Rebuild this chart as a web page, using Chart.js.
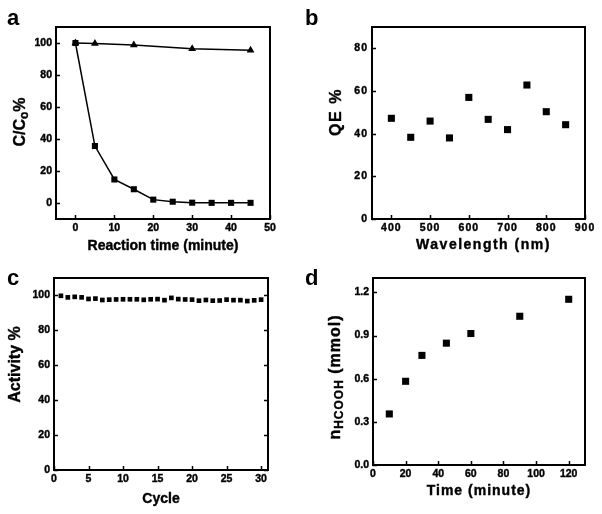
<!DOCTYPE html>
<html>
<head>
<meta charset="utf-8">
<script src="https://cdn.jsdelivr.net/npm/chart.js@4"></script>
<style>
  html, body { margin: 0; padding: 0; background: #fff; }
  .panel { position: absolute; }
</style>
</head>
<body>
<div class="panel" style="left:0;top:0"><canvas id="chartA" width="301" height="257"></canvas></div>
<div class="panel" style="left:301px;top:0"><canvas id="chartB" width="301" height="257"></canvas></div>
<div class="panel" style="left:0;top:257px"><canvas id="chartC" width="301" height="257"></canvas></div>
<div class="panel" style="left:301px;top:257px"><canvas id="chartD" width="301" height="257"></canvas></div>
<script>
// ---- Data ----
// a: photodegradation, C/Co %
const reactionTime = [0, 5, 10, 15, 20, 25, 30, 35, 40, 45];
const ratioWithCatalyst = [100, 35.6, 14.7, 8.6, 2.1, 0.8, 0.2, 0.1, 0.1, 0.1];
const blankTime = [0, 5, 15, 30, 45];
const ratioBlank = [100, 99.7, 98.8, 96.4, 95.4];
const ticksAX = [0, 10, 20, 30, 40, 50];
const ticksAY = [0, 20, 40, 60, 80, 100];

// b: quantum efficiency vs wavelength
const wavelength = [400, 450, 500, 550, 600, 650, 700, 750, 800, 850];
const quantumEff = [47.2, 38.3, 45.9, 38.0, 57.0, 46.7, 41.9, 62.8, 50.3, 44.2];
const ticksBX = [400, 500, 600, 700, 800, 900];
const ticksBY = [0, 20, 40, 60, 80];

// c: recycling activity
const cycles = [1, 2, 3, 4, 5, 6, 7, 8, 9, 10, 11, 12, 13, 14, 15, 16, 17, 18, 19, 20, 21, 22, 23, 24, 25, 26, 27, 28, 29, 30];
const activity = [99.8, 98.9, 99.2, 98.9, 98.0, 98.2, 97.4, 97.6, 97.7, 97.8, 97.8, 97.8, 97.5, 97.8, 97.9, 97.3, 98.6, 97.9, 97.7, 97.6, 97.0, 97.4, 97.0, 97.1, 97.6, 97.3, 97.3, 96.8, 97.2, 97.6];
const ticksCX = [0, 5, 10, 15, 20, 25, 30];
const ticksCY = [0, 20, 40, 60, 80, 100];

// d: formic acid produced vs time
const formicTime = [10, 20, 30, 45, 60, 90, 120];
const formicAmount = [0.355, 0.582, 0.762, 0.847, 0.914, 1.034, 1.152];
const ticksDX = [0, 20, 40, 60, 80, 100, 120];
const ticksDY = [0, 0.3, 0.6, 0.9, 1.2];

const FONT = '"Liberation Sans", Arial, sans-serif';

// ---- Frame, inward ticks, titles and panel letter ----
const panelPlugin = {
  id: "panel",
  beforeDraw(chart, args, o) {
    chart.ctx.letterSpacing = o.tickSpacing || "0px";
  },
  afterDraw(chart, args, o) {
    const { ctx, chartArea: a, scales } = chart;
    ctx.save();
    ctx.strokeStyle = "#000";
    ctx.lineWidth = 2;
    ctx.strokeRect(a.left, a.top, a.right - a.left, a.bottom - a.top);

    ctx.lineWidth = 1.5;
    ctx.beginPath();
    scales.x.ticks.forEach(t => {
      const px = Math.round(scales.x.getPixelForValue(t.value)) + 0.5;
      ctx.moveTo(px, a.bottom); ctx.lineTo(px, a.bottom - 4);
    });
    scales.y.ticks.forEach(t => {
      const py = Math.round(scales.y.getPixelForValue(t.value)) + 0.5;
      ctx.moveTo(a.left, py); ctx.lineTo(a.left + 4, py);
      if (o.mirrorY) { ctx.moveTo(a.right, py); ctx.lineTo(a.right - 4, py); }
    });
    ctx.stroke();

    ctx.fillStyle = "#000";
    ctx.lineWidth = 0.4;
    ctx.letterSpacing = o.titleSpacing || "0px";
    // x title
    ctx.textBaseline = "alphabetic";
    ctx.textAlign = "center";
    ctx.font = "bold 14px " + FONT;
    const xt = (a.left + a.right) / 2 + (o.xDx || 0);
    ctx.fillText(o.xTitle, xt, a.bottom + o.xDy);
    ctx.strokeText(o.xTitle, xt, a.bottom + o.xDy);

    // y title (rotated, may carry a subscript)
    ctx.translate(a.left + o.yDx, (a.top + a.bottom) / 2 + (o.yDy || 0));
    ctx.rotate(-Math.PI / 2);
    ctx.textAlign = "left";
    ctx.textBaseline = "middle";
    const fontOf = s => "bold " + (s.sub ? 12 : 16) + "px " + FONT;
    let total = 0;
    o.yTitle.forEach(s => { ctx.font = fontOf(s); total += ctx.measureText(s.text).width; });
    let x = -total / 2;
    o.yTitle.forEach(s => {
      ctx.font = fontOf(s);
      ctx.fillText(s.text, x, s.sub ? 4 : 0);
      ctx.strokeText(s.text, x, s.sub ? 4 : 0);
      x += ctx.measureText(s.text).width;
    });
    ctx.restore();

    ctx.save();
    ctx.letterSpacing = "0px";
    ctx.font = "bold 22px " + FONT;
    ctx.fillStyle = "#000";
    ctx.textBaseline = "alphabetic";
    ctx.fillText(o.letter, o.letterX, o.letterY);
    ctx.restore();
    chart.ctx.letterSpacing = "0px";
  }
};

function axis(min, max, tickValues, size, isY, fmt) {
  return {
    type: "linear",
    min, max,
    grid: { display: false, drawTicks: false },
    border: { display: false },
    afterBuildTicks: s => { s.ticks = tickValues.map(v => ({ value: v })); },
    afterFit: s => { if (isY) s.width = size; else s.height = size; },
    ticks: {
      color: "#000",
      textStrokeColor: "#000",
      textStrokeWidth: 0.4,
      padding: isY ? 4 : 3,
      font: { family: FONT, size: 10.5, weight: "bold" },
      callback: fmt || (v => v),
    },
  };
}

function series(xs, ys, style, radius, showLine) {
  return {
    data: xs.map((x, i) => ({ x, y: ys[i] })),
    pointStyle: style,
    pointRadius: radius,
    backgroundColor: "#000",
    borderColor: "#000",
    pointBorderWidth: 0,
    borderWidth: 1.5,
    showLine,
  };
}

function makePanel(id, datasets, scales, pad, panelOpts) {
  return new Chart(document.getElementById(id), {
    type: "scatter",
    data: { datasets },
    options: {
      responsive: false,
      animation: false,
      layout: { autoPadding: false, padding: { left: 0, bottom: 0, top: pad.top, right: pad.right } },
      scales,
      plugins: { legend: { display: false }, tooltip: { enabled: false }, panel: panelOpts },
    },
    plugins: [panelPlugin],
  });
}

// ---- a ----
makePanel("chartA",
  [series(reactionTime, ratioWithCatalyst, "rect", 4.3, true),
   series(blankTime, ratioBlank, "triangle", 4.5, true)],
  { x: axis(-5, 50, ticksAX, 38, false), y: axis(-10, 110, ticksAY, 56, true) },
  { top: 27, right: 31 },
  { letter: "a", letterX: 7, letterY: 25, xTitle: "Reaction time (minute)", xDy: 31,
    yTitle: [{ text: "C/C" }, { text: "o", sub: true }, { text: "%" }], yDx: -35, yDy: -1 });

// ---- b ----
makePanel("chartB",
  [series(wavelength, quantumEff, "rect", 5, false)],
  { x: axis(350, 900, ticksBX, 38, false), y: axis(0, 90, ticksBY, 71, true) },
  { top: 27, right: 17 },
  { letter: "b", letterX: 4, letterY: 25, xTitle: "Wavelength (nm)", xDy: 30, xDx: 5,
    yTitle: [{ text: "QE %" }], yDx: -35.5, yDy: -11,
    tickSpacing: "1px", titleSpacing: "1.5px" });

// ---- c ----
makePanel("chartC",
  [series(cycles, activity, "rect", 3.3, false)],
  { x: axis(0, 31, ticksCX, 44, false), y: axis(0, 110, ticksCY, 54, true) },
  { top: 21, right: 33 },
  { letter: "c", letterX: 7, letterY: 28, xTitle: "Cycle", xDy: 33,
    yTitle: [{ text: "Activity %" }], yDx: -38.5, yDy: -9.5, mirrorY: true });

// ---- d ----
makePanel("chartD",
  [series(formicTime, formicAmount, "rect", 5, false)],
  { x: axis(0, 130, ticksDX, 49, false), y: axis(0, 1.3, ticksDY, 72, true, v => v.toFixed(1)) },
  { top: 21, right: 17 },
  { letter: "d", letterX: 4, letterY: 28, xTitle: "Time (minute)", xDy: 30,
    yTitle: [{ text: "n" }, { text: "HCOOH", sub: true }, { text: " (mmol)" }], yDx: -37.5, yDy: 5.5,
    titleSpacing: "1px" });
</script>
</body>
</html>
